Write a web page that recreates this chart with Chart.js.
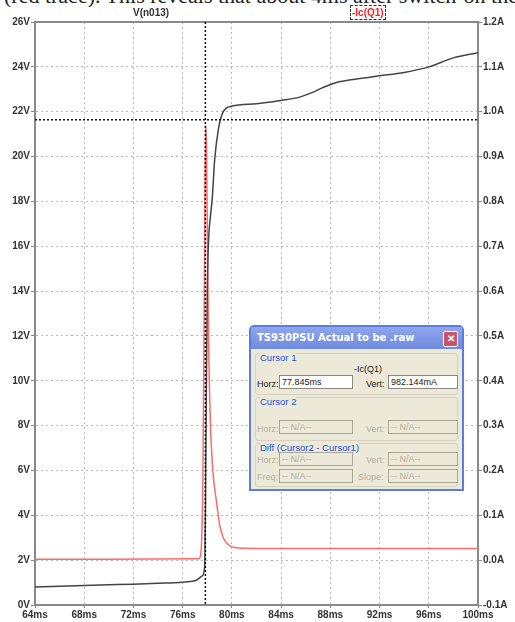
<!DOCTYPE html>
<html>
<head>
<meta charset="utf-8">
<script src="https://cdn.jsdelivr.net/npm/chart.js@4/dist/chart.umd.min.js"></script>
<style>
  body { margin: 0; background: #fff; width: 515px; height: 622px; overflow: hidden; position: relative; }
  #myChart { position: absolute; left: 0; top: 0; }
  .cut { position: absolute; left: 0; top: 0; width: 515px; height: 7px; overflow: hidden; }
  .cut span { position: absolute; left: 4px; top: -15px; font: 22px/22px "Liberation Serif", serif; white-space: nowrap; color: #222; }
  .trace { position: absolute; top: 7px; font: bold 10px "Liberation Sans", Arial, sans-serif; }
  #lblV { left: 133px; color: #333; }
  #lblI { left: 350px; color: #f22; border: 1px dashed #333; padding: 1px 1px; top: 5px; }
  .dlg { position: absolute; left: 249px; top: 325px; width: 211px; height: 162px; border: 2px solid #5a7de0; border-radius: 5px 5px 0 0; background: #ece9d8; font: 9px "Liberation Sans", Arial, sans-serif; }
  .dlg .bar { height: 22px; background: linear-gradient(#8fa6ee, #6f8ade); color: #fff; font: bold 10px "DejaVu Sans", sans-serif; line-height: 22px; padding-left: 6px; position: relative; }
  .dlg .x { position: absolute; right: 4px; top: 4px; width: 13px; height: 14px; background: #c8546a; border: 1px solid #fff; border-radius: 2px; color: #fff; font: bold 10px sans-serif; line-height: 14px; text-align: center; }
  .grp { position: absolute; left: 4px; width: 201px; border: 1px solid #d6d2c2; border-radius: 3px; }
  .grp .t { position: absolute; left: 4px; top: -2px; color: #2350d8; background: #ece9d8; font-size: 9.5px; }
  .lab { position: absolute; color: #222; }
  .dis { color: #b4b0a0; }
  .box { position: absolute; height: 12px; border: 1px solid #8d8a7c; background: #fff; color: #222; line-height: 12px; padding-left: 2px; }
  .box.off { background: #ece9d8; color: #b4b0a0; border-color: #a9a696; }
</style>
</head>
<body>
<div class="cut"><span>(red trace). This reveals that about 4ms after switch-on the</span></div>
<canvas id="myChart" width="515" height="622"></canvas>
<div class="trace" id="lblV">V(n013)</div>
<div class="trace" id="lblI">-Ic(Q1)</div>

<div class="dlg">
  <div class="bar">TS930PSU Actual to be .raw<div class="x">✕</div></div>
  <div class="grp" style="top:26px;height:40px"><span class="t">Cursor 1</span>
    <span class="lab" style="left:98px;top:10px">-Ic(Q1)</span>
    <span class="lab" style="left:1px;top:25px">Horz:</span>
    <div class="box" style="left:23px;top:21px;width:70px" id="horz"></div>
    <span class="lab" style="left:110px;top:25px">Vert:</span>
    <div class="box" style="left:132px;top:21px;width:66px" id="vert"></div>
  </div>
  <div class="grp" style="top:70px;height:42px"><span class="t">Cursor 2</span>
    <span class="lab dis" style="left:1px;top:26px">Horz:</span>
    <div class="box off" style="left:23px;top:22px;width:70px">-- N/A--</div>
    <span class="lab dis" style="left:110px;top:26px">Vert:</span>
    <div class="box off" style="left:132px;top:22px;width:66px">-- N/A--</div>
  </div>
  <div class="grp" style="top:116px;height:42px"><span class="t">Diff (Cursor2 - Cursor1)</span>
    <span class="lab dis" style="left:1px;top:11px">Horz:</span>
    <div class="box off" style="left:23px;top:8px;width:70px">-- N/A--</div>
    <span class="lab dis" style="left:110px;top:11px">Vert:</span>
    <div class="box off" style="left:132px;top:8px;width:66px">-- N/A--</div>
    <span class="lab dis" style="left:1px;top:28px">Freq:</span>
    <div class="box off" style="left:23px;top:25px;width:70px">-- N/A--</div>
    <span class="lab dis" style="left:102px;top:28px">Slope:</span>
    <div class="box off" style="left:132px;top:25px;width:66px">-- N/A--</div>
  </div>
</div>

<script>
// V(n013) in volts
const vTimes = [64, 66, 68, 70, 72, 74, 76, 77, 77.6, 77.8, 77.86, 77.93, 78.0, 78.1, 78.25, 78.4, 78.6, 78.9, 79.3, 80, 82, 84, 85.5, 86.5, 87.5, 88.5, 90, 92, 94, 96, 98, 100]
const vValues = [0.8, 0.84, 0.87, 0.9, 0.93, 0.97, 1.02, 1.08, 1.3, 1.8, 5, 10, 14, 16.2, 17.3, 18.1, 19.85, 21.2, 22.0, 22.25, 22.35, 22.5, 22.65, 22.85, 23.1, 23.3, 23.45, 23.6, 23.75, 24.0, 24.4, 24.63]

// -Ic(Q1) in amps
const iTimes = [64, 70, 77.3, 77.45, 77.55, 77.65, 77.75, 77.82, 77.87, 77.93, 78.0, 78.1, 78.25, 78.45, 78.75, 79.0, 79.3, 79.7, 80.2, 82, 90, 100]
const iValues = [0.002, 0.002, 0.003, 0.01, 0.05, 0.2, 0.55, 0.85, 0.97, 0.93, 0.75, 0.5, 0.31, 0.2, 0.13, 0.08, 0.05, 0.035, 0.028, 0.026, 0.026, 0.026]

// cursor 1
const cursorTime = 77.845
const cursorAmps = 0.982144

document.getElementById('horz').textContent = cursorTime.toFixed(3) + 'ms'
document.getElementById('vert').textContent = (cursorAmps * 1000).toFixed(3) + 'mA'

const toPoints = (xs, ys) => xs.map((x, i) => ({ x: x, y: ys[i] }))

const tickFont = { family: 'Liberation Sans', size: 10, weight: 'bold' }

const frame = {
  id: 'frame',
  beforeDatasetsDraw(chart) {
    const a = chart.chartArea, ctx = chart.ctx
    ctx.save()
    ctx.strokeStyle = '#8a8a8a'
    ctx.lineWidth = 2
    ctx.beginPath()
    ctx.moveTo(a.left, a.top)
    ctx.lineTo(a.right, a.top)
    ctx.stroke()
    ctx.restore()
  }
}

const cursor = {
  id: 'cursor',
  afterDatasetsDraw(chart) {
    const a = chart.chartArea, ctx = chart.ctx
    const x = chart.scales.x.getPixelForValue(cursorTime)
    const y = chart.scales.y1.getPixelForValue(cursorAmps)
    ctx.save()
    ctx.strokeStyle = '#111'
    ctx.lineWidth = 1.5
    ctx.setLineDash([2, 2])
    ctx.beginPath()
    ctx.moveTo(x, a.top); ctx.lineTo(x, a.bottom)
    ctx.moveTo(a.left, y); ctx.lineTo(a.right, y)
    ctx.stroke()
    ctx.restore()
  }
}

const ctx = document.getElementById('myChart').getContext('2d')
const myChart = new Chart(ctx, {
  type: 'line',
  data: {
    datasets: [
      {
        label: 'V(n013)',
        data: toPoints(vTimes, vValues),
        borderColor: '#444',
        borderWidth: 1.5,
        pointRadius: 0,
        cubicInterpolationMode: 'monotone',
        yAxisID: 'y'
      },
      {
        label: '-Ic(Q1)',
        data: toPoints(iTimes, iValues),
        borderColor: '#ff6a6a',
        borderWidth: 1.5,
        pointRadius: 0,
        cubicInterpolationMode: 'monotone',
        yAxisID: 'y1'
      }
    ]
  },
  options: {
    responsive: false,
    devicePixelRatio: 1,
    animation: false,
    layout: { padding: { top: 22, left: 0, right: 0, bottom: 0 } },
    plugins: { legend: { display: false }, tooltip: { enabled: false } },
    scales: {
      x: {
        type: 'linear', min: 64, max: 100,
        afterFit: s => { s.height = 17 },
        ticks: { stepSize: 4, padding: 1, color: '#333', font: tickFont, maxRotation: 0, callback: v => v + 'ms' },
        grid: { color: '#b8b8b8', tickLength: 3, tickColor: '#888' },
        border: { color: '#8a8a8a', width: 2, dash: [2, 3] }
      },
      y: {
        position: 'left', min: 0, max: 26,
        afterFit: s => { s.width = 35 },
        ticks: { stepSize: 2, padding: 1, color: '#333', font: tickFont, callback: v => v + 'V' },
        grid: { color: '#b8b8b8', tickLength: 4, tickColor: '#888' },
        border: { color: '#8a8a8a', width: 2, dash: [2, 3] }
      },
      y1: {
        position: 'right', min: -0.1, max: 1.2,
        afterFit: s => { s.width = 37 },
        ticks: { stepSize: 0.1, padding: 1, color: '#333', font: tickFont, callback: v => v.toFixed(1) + 'A' },
        grid: { drawOnChartArea: false, tickLength: 4, tickColor: '#888' },
        border: { color: '#8a8a8a', width: 2 }
      }
    }
  },
  plugins: [frame, cursor]
})
</script>
</body>
</html>
